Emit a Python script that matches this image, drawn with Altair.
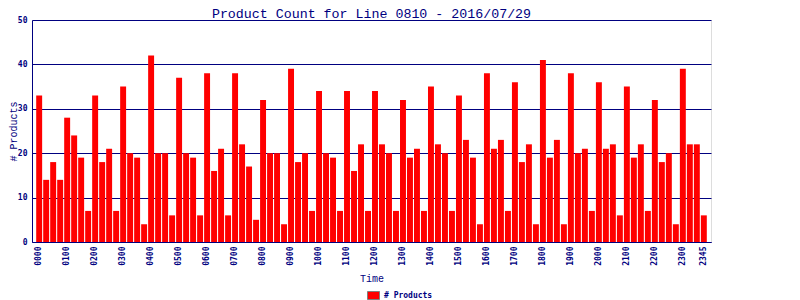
import altair as alt
import pandas as pd

# 15-minute time slots of the day
hours = ["%02d" % h for h in range(24)]
minutes = ["00", "15", "30", "45"]
times = [h + m for h in hours for m in minutes]

counts = [
    33, 14, 18, 14,   # 00
    28, 24, 19, 7,    # 01
    33, 18, 21, 7,    # 02
    35, 20, 19, 4,    # 03
    42, 20, 20, 6,    # 04
    37, 20, 19, 6,    # 05
    38, 16, 21, 6,    # 06
    38, 22, 17, 5,    # 07
    32, 20, 20, 4,    # 08
    39, 18, 20, 7,    # 09
    34, 20, 19, 7,    # 10
    34, 16, 22, 7,    # 11
    34, 22, 20, 7,    # 12
    32, 19, 21, 7,    # 13
    35, 22, 20, 7,    # 14
    33, 23, 19, 4,    # 15
    38, 21, 23, 7,    # 16
    36, 18, 22, 4,    # 17
    41, 19, 23, 4,    # 18
    38, 20, 21, 7,    # 19
    36, 21, 22, 6,    # 20
    35, 19, 22, 7,    # 21
    32, 18, 20, 4,    # 22
    39, 22, 22, 6,    # 23
]

tick_labels = [h + "00" for h in hours] + ["2345"]
y_ticks = [0, 10, 20, 30, 40, 50]
series_name = "# Products"

df = pd.DataFrame({"time": times, "count": counts, "series": series_name})

NAVY = "#000080"
MONO = "DejaVu Sans Mono"
TMONO = "Liberation Mono"

chart = (
    alt.Chart(df)
    .mark_bar(color="#ff0000")
    .encode(
        x=alt.X(
            "time:O",
            sort=times,
            scale=alt.Scale(paddingInner=0.15, paddingOuter=0.6),
            axis=alt.Axis(
                title="Time",
                values=tick_labels,
                labelAngle=270,
                labelPadding=4,
                ticks=False,
                tickSize=0,
                labelFont=MONO,
                labelFontSize=8,
                labelFontWeight="bold",
                labelColor=NAVY,
                domainColor=NAVY,
                titleFont=TMONO,
                titleFontSize=10,
                titleFontWeight="normal",
                titleColor=NAVY,
                titleX=339.5,
                titleY=39,
                titleBaseline="alphabetic",
                titleAlign="center",
                grid=False,
            ),
        ),
        y=alt.Y(
            "count:Q",
            scale=alt.Scale(domain=[0, 50], nice=False),
            axis=alt.Axis(
                title="# Products",
                values=y_ticks,
                ticks=False,
                tickSize=0,
                labelPadding=5,
                labelFont=MONO,
                labelFontSize=8,
                labelFontWeight="bold",
                labelColor=NAVY,
                domainColor=NAVY,
                gridColor=NAVY,
                gridWidth=1,
                gridOpacity=1,
                titleFont=TMONO,
                titleFontSize=10,
                titleFontWeight="normal",
                titleColor=NAVY,
                titleAngle=270,
                titleX=-19,
                titleY=111,
                titleAlign="center",
                titleBaseline="middle",
            ),
        ),
        color=alt.Color(
            "series:N",
            scale=alt.Scale(domain=[series_name], range=["#ff0000"]),
            legend=alt.Legend(
                title=None,
                orient="none",
                legendX=337,
                legendY=271,
                symbolType="M-1.5,-1H1.5V1H-1.5Z",
                symbolSize=64,
                symbolStrokeColor="#808080",
                symbolStrokeWidth=1,
                symbolOpacity=1,
                labelFont=MONO,
                labelFontSize=8,
                labelFontWeight="bold",
                labelColor=NAVY,
                labelOffset=6,
                padding=0,
            ),
        ),
    )
    .properties(
        width=679,
        height=222,
        title=alt.TitleParams(
            text="Product Count for Line 0810 - 2016/07/29",
            font=TMONO,
            fontSize=13.3,
            fontWeight="normal",
            color=NAVY,
            baseline="alphabetic",
            offset=0,
            dy=15.5,
        ),
        autosize=alt.AutoSizeParams(type="none"),
        padding={"left": 24, "top": 12, "right": 81, "bottom": 58},
    )
    .configure_view(stroke=NAVY, strokeWidth=1)
    .configure(background="white")
)

chart.save("out.html", embed_options={"renderer": "svg", "actions": False})
